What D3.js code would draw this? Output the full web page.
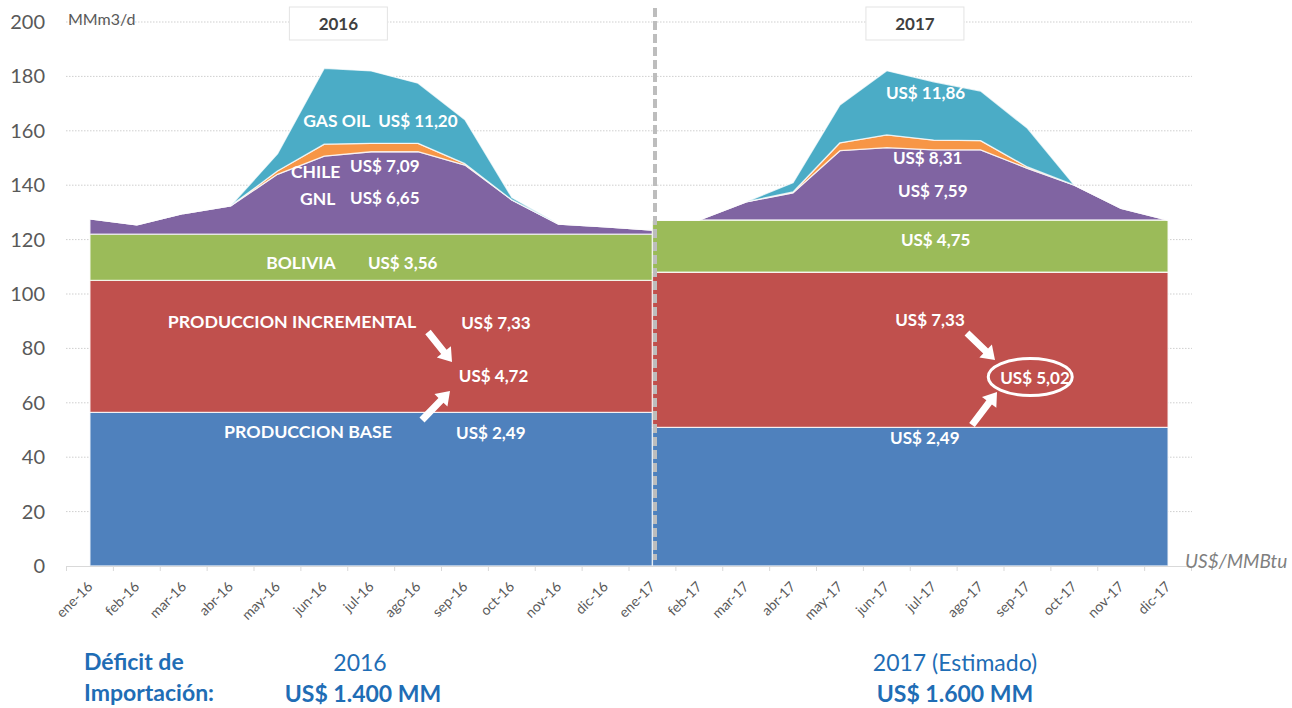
<!DOCTYPE html>
<html>
<head>
<meta charset="utf-8">
<script src="https://cdn.jsdelivr.net/npm/d3@7"></script>
<style>
  body { margin: 0; background: #fff; }
  svg { display: block; font-family: Lato, "Open Sans", sans-serif; }
</style>
</head>
<body>
<div id="chart"></div>
<script>
const months = ["ene-16", "feb-16", "mar-16", "abr-16", "may-16", "jun-16", "jul-16", "ago-16",
  "sep-16", "oct-16", "nov-16", "dic-16", "ene-17", "feb-17", "mar-17", "abr-17", "may-17",
  "jun-17", "jul-17", "ago-17", "sep-17", "oct-17", "nov-17", "dic-17"];

// 2016 series: ene-16 .. ene-17 (13 points)
const base16 = [56.5, 56.5, 56.5, 56.5, 56.5, 56.5, 56.5, 56.5, 56.5, 56.5, 56.5, 56.5, 56.5];
const incr16 = [48.5, 48.5, 48.5, 48.5, 48.5, 48.5, 48.5, 48.5, 48.5, 48.5, 48.5, 48.5, 48.5];
const bol16 = [17, 17, 17, 17, 17, 17, 17, 17, 17, 17, 17, 17, 17];
const gnl16 = [5.6, 3.4, 7.6, 10.4, 22, 28.7, 30.3, 30.3, 25.4, 12.6, 3.7, 2.7, 1.5];
const chile16 = [0, 0, 0, 0, 1.2, 4.4, 3.1, 3.1, 0.5, 0, 0, 0, 0];
const gas16 = [0, 0, 0, 0, 6.3, 27.9, 26.6, 22.1, 16.2, 0.9, 0, 0, 0];

// 2017 series: ene-17 .. dic-17 (12 points)
const base17 = [51, 51, 51, 51, 51, 51, 51, 51, 51, 51, 51, 51];
const incr17 = [57, 57, 57, 57, 57, 57, 57, 57, 57, 57, 57, 57];
const bol17 = [19.2, 19.2, 19.2, 19.2, 19.2, 19.2, 19.2, 19.2, 19.2, 19.2, 19.2, 19.2];
const gnl17 = [0, 0, 6.7, 10, 25.5, 26.6, 25.8, 25.8, 19, 12.8, 4.3, 0];
const chile17 = [0, 0, 0, 0.3, 2.9, 4.7, 3.6, 3.4, 0.5, 0, 0, 0];
const gas17 = [0, 0, 0, 3.4, 13.9, 23.6, 21.4, 18.2, 14.2, 0, 0, 0];

const yTicks = [0, 20, 40, 60, 80, 100, 120, 140, 160, 180, 200];

const keys = ["base", "incr", "bol", "gnl", "chile", "gas"];
const colors = {
  base: "#4F81BD", incr: "#C0504D", bol: "#9BBB59",
  gnl: "#8064A2", chile: "#F79646", gas: "#4BACC6"
};

function rows(start, cols) {
  return cols.base.map((_, i) => {
    const r = { m: start + i };
    keys.forEach(k => (r[k] = cols[k][i]));
    return r;
  });
}
const data16 = rows(0, { base: base16, incr: incr16, bol: bol16, gnl: gnl16, chile: chile16, gas: gas16 });
const data17 = rows(12, { base: base17, incr: incr17, bol: bol17, gnl: gnl17, chile: chile17, gas: gas17 });

const width = 1292, height = 708;
const svg = d3.select("#chart").append("svg")
  .attr("width", width).attr("height", height)
  .style("overflow", "hidden");

const x = d3.scaleBand().domain(months).range([66.5, 1191.5]).padding(0);
// centre of a (possibly fractional) month index
const xc = m => x.range()[0] + x.step() * (m + 0.5);
const y = d3.scaleLinear().domain([0, 200]).range([566, 22]);

// gridlines
svg.append("g").selectAll("line").data(yTicks.slice(1)).join("line")
  .attr("x1", 66).attr("x2", 1192)
  .attr("y1", d => y(d)).attr("y2", d => y(d))
  .attr("stroke", "#cfcfcf").attr("stroke-dasharray", "1.5,1.5");

// y labels
svg.append("g").selectAll("text").data(yTicks).join("text")
  .attr("x", 45).attr("y", d => y(d)).attr("dy", "0.35em")
  .attr("text-anchor", "end").attr("font-size", 20).attr("fill", "#595959")
  .text(d => d);

svg.append("text").attr("x", 68).attr("y", 25).attr("font-size", 16)
  .attr("fill", "#595959").text("MMm3/d");

// stacked areas
const stack = d3.stack().keys(keys);
const area = d3.area().x(d => xc(d.data.m)).y0(d => y(d[0])).y1(d => y(d[1]));
[data16, data17].forEach(data => {
  svg.append("g").selectAll("path").data(stack(data)).join("path")
    .attr("d", area)
    .attr("fill", d => colors[d.key])
    .attr("stroke", "#ffffff").attr("stroke-opacity", 0.75).attr("stroke-width", 1.3)
    .attr("stroke-linejoin", "round");
});

// x axis
const xAxis = d3.axisBottom(x).tickSize(0).tickPadding(0);
const gx = svg.append("g").attr("transform", `translate(0,${y(0)})`).call(xAxis);
gx.select(".domain").attr("stroke", "#d9d9d9");
gx.selectAll(".tick text")
  .attr("font-size", 14).attr("fill", "#595959").attr("font-family", "Lato, sans-serif")
  .attr("text-anchor", "end")
  .attr("transform", "translate(0,18) rotate(-45)")
  .attr("dy", "0.35em");
svg.append("g").selectAll("line").data(d3.range(months.length + 1)).join("line")
  .attr("x1", d => x.range()[0] + d * x.step()).attr("x2", d => x.range()[0] + d * x.step())
  .attr("y1", y(0)).attr("y2", y(0) + 5).attr("stroke", "#d9d9d9");

svg.append("text").attr("x", 1185).attr("y", 568).attr("font-size", 19)
  .attr("font-style", "italic").attr("fill", "#7f7f7f").text("US$/MMBtu");

// divider
svg.append("line").attr("x1", 655).attr("x2", 655).attr("y1", 8).attr("y2", 560)
  .attr("stroke", "#bdbdbd").attr("stroke-width", 4).attr("stroke-dasharray", "9,4");

// year boxes
[{ t: "2016", m: 5.3 }, { t: "2017", m: 17.6 }].forEach(b => {
  const cx = xc(b.m);
  svg.append("rect").attr("x", cx - 49).attr("y", 7).attr("width", 98).attr("height", 33)
    .attr("fill", "#fff").attr("stroke", "#e3e3e3");
  svg.append("text").attr("x", cx).attr("y", 30).attr("text-anchor", "middle")
    .attr("font-size", 17).attr("font-weight", "bold").attr("fill", "#404040").text(b.t);
});

// white labels (left edge at fractional month position, baseline at value)
const labels = [
  { t: "GAS OIL", m: 4.55, v: 161.4, s: 17.5 }, { t: "US$ 11,20", m: 6.15, v: 161.4 },
  { t: "CHILE", m: 4.29, v: 142.6, s: 17.5 }, { t: "US$ 7,09", m: 5.55, v: 144.9 },
  { t: "GNL", m: 4.48, v: 132.7, s: 17.5 }, { t: "US$ 6,65", m: 5.55, v: 133.1 },
  { t: "BOLIVIA", m: 3.76, v: 109.2, s: 17.5 }, { t: "US$ 3,56", m: 5.93, v: 109.2 },
  { t: "PRODUCCION INCREMENTAL", m: 1.66, v: 87.5, s: 17.8 }, { t: "US$ 7,33", m: 7.92, v: 87.1 },
  { t: "US$ 4,72", m: 7.87, v: 67.6 },
  { t: "PRODUCCION BASE", m: 2.86, v: 47.1, s: 17.8 }, { t: "US$ 2,49", m: 7.81, v: 46.7 },
  { t: "US$ 11,86", m: 16.98, v: 171.7 }, { t: "US$ 8,31", m: 17.13, v: 147.8 },
  { t: "US$ 7,59", m: 17.24, v: 135.7 }, { t: "US$ 4,75", m: 17.3, v: 117.6 },
  { t: "US$ 7,33", m: 17.18, v: 88.2 }, { t: "US$ 5,02", m: 19.42, v: 66.9 },
  { t: "US$ 2,49", m: 17.07, v: 44.9 }
];
svg.append("g").selectAll("text").data(labels).join("text")
  .attr("x", d => xc(d.m)).attr("y", d => y(d.v))
  .attr("font-size", d => d.s || 17).attr("font-weight", "bold").attr("fill", "#fff")
  .text(d => d.t);

// highlight ellipse
svg.append("ellipse").attr("cx", xc(20.06)).attr("cy", y(69.5))
  .attr("rx", 42).attr("ry", 18.5)
  .attr("fill", "none").attr("stroke", "#fff").attr("stroke-width", 3);

// arrows (pixel endpoints)
const arrows = [
  [428, 332, 452, 362], [422, 420, 450, 391],
  [967, 333, 995, 360], [972, 425, 997, 392]
];
function arrowPath([x1, y1, x2, y2]) {
  const dx = x2 - x1, dy = y2 - y1, len = Math.hypot(dx, dy);
  const ux = dx / len, uy = dy / len, nx = -uy, ny = ux;
  const hl = 13, sw = 3.5, hw = 9;
  const bx = x2 - ux * hl, by = y2 - uy * hl;
  const p = [
    [x1 + nx * sw, y1 + ny * sw], [bx + nx * sw, by + ny * sw], [bx + nx * hw, by + ny * hw],
    [x2, y2], [bx - nx * hw, by - ny * hw], [bx - nx * sw, by - ny * sw], [x1 - nx * sw, y1 - ny * sw]
  ];
  return "M" + p.map(q => q.join(",")).join("L") + "Z";
}
svg.append("g").selectAll("path").data(arrows).join("path")
  .attr("d", arrowPath).attr("fill", "#fff");

// bottom notes
const blue = "#1F6DB5";
const notes = [
  { t: "Déficit de", x: 84, y: 670, b: true, a: "start" },
  { t: "Importación:", x: 84, y: 701, b: true, a: "start" },
  { t: "2016", x: 360, y: 671, b: false, a: "middle" },
  { t: "US$ 1.400 MM", x: 363, y: 702, b: true, a: "middle" },
  { t: "2017 (Estimado)", x: 955, y: 671, b: false, a: "middle" },
  { t: "US$ 1.600 MM", x: 955, y: 702, b: true, a: "middle" }
];
svg.append("g").selectAll("text").data(notes).join("text")
  .attr("x", d => d.x).attr("y", d => d.y).attr("text-anchor", d => d.a)
  .attr("font-size", 23).attr("font-weight", d => (d.b ? "bold" : "normal"))
  .attr("fill", blue).text(d => d.t);
</script>
</body>
</html>
